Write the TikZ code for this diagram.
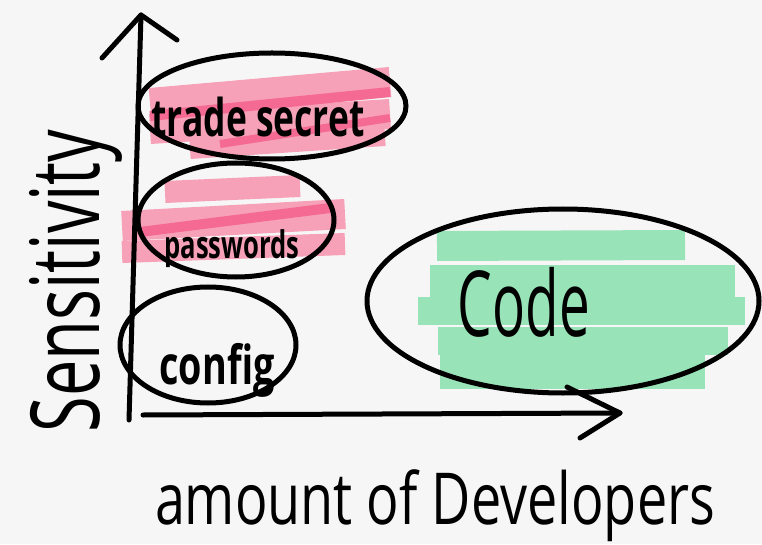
\documentclass[tikz,border=0pt]{standalone}
\usepackage{fontspec}
\setmainfont{Open Sans}
\usetikzlibrary{shapes.geometric}
\definecolor{bg}{HTML}{F6F6F6}
\definecolor{pinkl}{HTML}{F7A1B8}
\definecolor{pinkd}{HTML}{F46A93}
\definecolor{mint}{HTML}{98E3B8}
\begin{document}
\begin{tikzpicture}[x=1pt,y=1pt,
  ink/.style={line width=5pt, line cap=round, line join=round, black},
  blob/.style={ellipse, draw=black, line width=5pt, inner sep=0pt},
  hlp/.style={pinkl, line width=#1},
  hld/.style={pinkd, line width=#1},
  hlg/.style={mint, line width=#1},
  lbl/.style={inner sep=0pt, text=black},
  slbl/.style={lbl, font=\bfseries}]
\fill[bg] (0,0) rectangle (762,544);
\useasboundingbox (0,0) rectangle (762,544);
% pink highlights: trade secret
\draw[hlp=30pt] (150,441) -- (390,462);
\draw[hlp=30pt] (150,415) -- (390,430);
\draw[hlp=20pt] (190,395) -- (385,408);
\draw[hld=10pt] (150,428) -- (390,452);
\draw[hld=8pt] (220,400) -- (390,426);
% pink highlights: passwords
\draw[hlp=22pt] (165,352) -- (300,358);
\draw[hlp=30pt] (122,318) -- (345,330);
\draw[hlp=22pt] (122,292) -- (345,300);
\draw[hld=10pt] (140,312) -- (330,336);
% green highlights: code
\draw[hlg=30pt] (437,298) -- (685,299);
\draw[hlg=34pt] (430,262) -- (735,262);
\draw[hlg=28pt] (418,233) -- (745,233);
\draw[hlg=28pt] (438,203) -- (728,203);
\draw[hlg=34pt] (440,172) -- (705,172);
% axes
\coordinate (yb) at (129,124);
\coordinate (yt) at (141,529);
\coordinate (ywl) at (102,486);
\coordinate (ywr) at (177,504);
\draw[ink] (yb) -- (yt);
\draw[ink] (ywl) -- (yt) -- (ywr);
\coordinate (xb) at (143,129);
\coordinate (xt) at (620,131);
\coordinate (xwu) at (567,157);
\coordinate (xwl) at (580,106);
\draw[ink] (xb) -- (xt);
\draw[ink] (xwu) -- (xt) -- (xwl);
% ellipses
\node[blob, minimum width=268pt, minimum height=106pt] (ts) at (272,438) {};
\node[blob, minimum width=196pt, minimum height=114pt] (pw) at (236,324) {};
\node[blob, minimum width=176pt, minimum height=116pt] (cf) at (208,199) {};
\node[blob, minimum width=392pt, minimum height=184pt] (cd) at (563,243) {};
% labels
\node[slbl] (tst) at (258,427) {\resizebox*{213pt}{40pt}{trade secret}};
\node[slbl] (pwt) at (232,295) {\resizebox*{135pt}{38pt}{passwords}};
\node[slbl] (cft) at (217,174) {\resizebox*{115pt}{54pt}{config}};
\node[lbl] (cdt) at (524,242) {\resizebox*{132pt}{70pt}{Code}};
\node[lbl, rotate=90] (sen) at (76,263) {\resizebox*{303pt}{93pt}{Sensitivity}};
\node[lbl] (amt) at (435,38) {\resizebox*{560pt}{72pt}{amount of Developers}};
\end{tikzpicture}
\end{document}
